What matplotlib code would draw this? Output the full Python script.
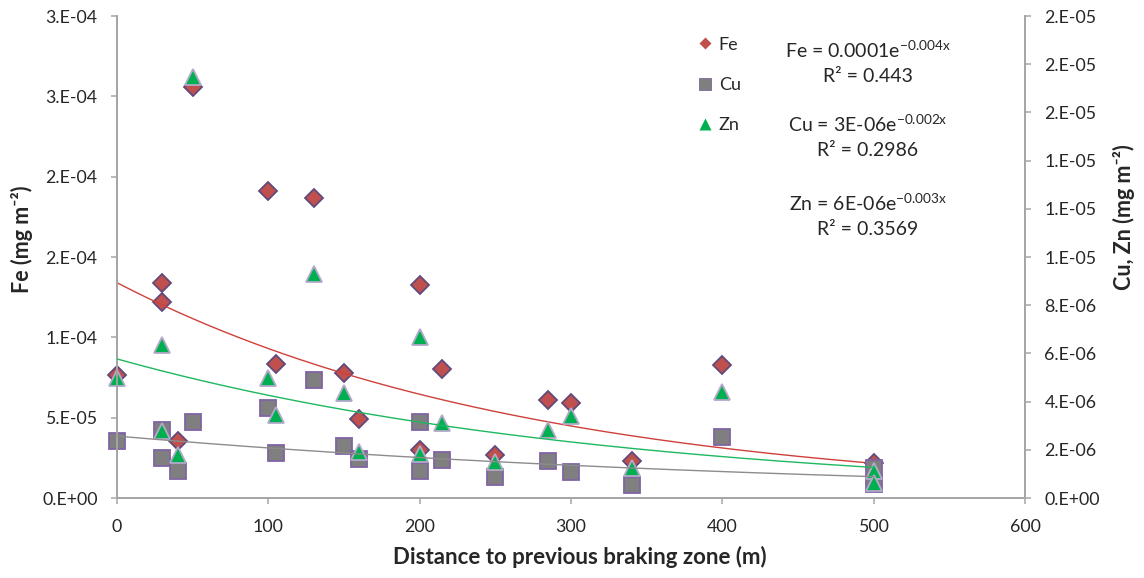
import numpy as np
import matplotlib
matplotlib.use("Agg")
import matplotlib.pyplot as plt
from matplotlib.lines import Line2D
from matplotlib.ticker import FuncFormatter

plt.rcParams['font.family'] = ['Lato', 'DejaVu Sans']

# Datos
dist_fe = [0, 30, 30, 40, 50, 100, 105, 130, 150, 160, 200, 200, 215, 250, 285, 300, 340, 400, 500]
fe = [7.66e-5, 1.337e-4, 1.222e-4, 3.55e-5, 2.561e-4, 1.912e-4, 8.32e-5, 1.870e-4, 7.80e-5, 4.9e-5,
      1.326e-4, 2.99e-5, 8.01e-5, 2.68e-5, 6.10e-5, 5.93e-5, 2.30e-5, 8.28e-5, 2.2e-5]

dist_cu = [0, 30, 30, 40, 50, 100, 105, 130, 150, 160, 200, 200, 215, 250, 285, 300, 340, 400, 500, 500]
cu = [2.37e-6, 2.82e-6, 1.67e-6, 1.12e-6, 3.17e-6, 3.72e-6, 1.88e-6, 4.90e-6, 2.17e-6, 1.60e-6,
      3.17e-6, 1.12e-6, 1.58e-6, 0.88e-6, 1.54e-6, 1.09e-6, 0.54e-6, 2.54e-6, 1.24e-6, 0.58e-6]

dist_zn = [0, 30, 30, 40, 50, 100, 105, 130, 150, 160, 200, 200, 215, 250, 285, 300, 340, 400, 500, 500]
zn = [4.99e-6, 6.35e-6, 2.78e-6, 1.78e-6, 1.745e-5, 4.97e-6, 3.44e-6, 9.29e-6, 4.37e-6, 1.92e-6,
      6.69e-6, 1.81e-6, 3.10e-6, 1.51e-6, 2.82e-6, 3.40e-6, 1.23e-6, 4.41e-6, 1.12e-6, 0.62e-6]

# Lineas de tendencia exponenciales (y = a*exp(b*x))
fe_trend = (1.34e-4, -0.00365)
cu_trend = (2.57e-6, -0.00213)
zn_trend = (5.77e-6, -0.00303)

fe_eq = ["Fe = 0.0001e$^{\\mathregular{-0.004x}}$", "R² = 0.443"]
cu_eq = ["Cu = 3E-06e$^{\\mathregular{-0.002x}}$", "R² = 0.2986"]
zn_eq = ["Zn = 6E-06e$^{\\mathregular{-0.003x}}$", "R² = 0.3569"]

x_ticks = [0, 100, 200, 300, 400, 500, 600]
fe_ticks = [0, 5e-5, 1e-4, 1.5e-4, 2e-4, 2.5e-4, 3e-4]
cuzn_ticks = [0, 2e-6, 4e-6, 6e-6, 8e-6, 1e-5, 1.2e-5, 1.4e-5, 1.6e-5, 1.8e-5, 2e-5]


def excel_sci(v, pos=None):
    # formato tipo Excel "0.E+00"
    if v == 0:
        return "0.E+00"
    e = int(np.floor(np.log10(abs(v)) + 1e-9))
    m = int(np.floor(v / 10**e + 0.5 + 1e-9))
    if m == 10:
        m = 1
        e += 1
    return f"{m}.E{e:+03d}"


axis_col = '#A6A6A6'
txt_col = '#262626'

fig = plt.figure(figsize=(11.44, 5.78), dpi=100)
ax = fig.add_axes([0.1023, 0.1384, 0.7937, 0.8339])
ax2 = ax.twinx()

xx = np.linspace(0, 500, 200)
ax.plot(xx, fe_trend[0] * np.exp(fe_trend[1] * xx), color='#D0403A', lw=1.0, zorder=3)
ax.plot(dist_fe, fe, 'D', ms=9.5, mfc='#C0504D', mec='#604A7B', mew=1.3, ls='none',
        zorder=2, clip_on=False)

ax2.plot(dist_cu, cu, 's', ms=12, mfc='#7F7F7F', mec='#8064A2', mew=1.3, ls='none',
         zorder=2, clip_on=False)
ax2.plot(dist_zn, zn, '^', ms=12, mfc='#00B050', mec='#B3A9C9', mew=1.3, ls='none',
         zorder=2, clip_on=False)
ax2.plot(xx, cu_trend[0] * np.exp(cu_trend[1] * xx), color='#8C8C8C', lw=1.0, zorder=3)
ax2.plot(xx, zn_trend[0] * np.exp(zn_trend[1] * xx), color='#1DB860', lw=1.0, zorder=3)

ax.set_xlim(0, 600)
ax.set_ylim(0, 3e-4)
ax2.set_ylim(0, 2e-5)
ax.set_xticks(x_ticks)
ax.set_yticks(fe_ticks)
ax2.set_yticks(cuzn_ticks)
ax.yaxis.set_major_formatter(FuncFormatter(excel_sci))
ax2.yaxis.set_major_formatter(FuncFormatter(excel_sci))

for a in (ax, ax2):
    a.spines['top'].set_visible(False)
    for s in ('left', 'right', 'bottom'):
        a.spines[s].set_color(axis_col)
        a.spines[s].set_linewidth(1.3)
    a.tick_params(axis='both', colors=axis_col, labelcolor=txt_col, labelsize=12.8,
                  length=4, width=1.1, direction='out')
ax.tick_params(axis='x', pad=11)
ax.tick_params(axis='y', pad=10)
ax2.tick_params(axis='y', pad=10)

ax.set_xlabel("Distance to previous braking zone (m)", fontsize=16, fontweight='bold', color=txt_col)
ax.xaxis.set_label_coords(0.51, -0.100)
ax.set_ylabel("Fe (mg m⁻²)", fontsize=15.5, fontweight='bold', color=txt_col)
ax.yaxis.set_label_coords(-0.0925, 0.537)
ax2.set_ylabel("Cu, Zn (mg m⁻²)", fontsize=15.5, fontweight='bold', color=txt_col)
ax2.yaxis.set_label_coords(1.097, 0.583)

handles = [
    Line2D([], [], marker='D', ls='none', ms=6.5, mfc='#C0504D', mec='none'),
    Line2D([], [], marker='s', ls='none', ms=8, mfc='#7F7F7F', mec='#8064A2', mew=0.6),
    Line2D([], [], marker='^', ls='none', ms=8, mfc='#00B050', mec='none'),
]
leg = ax2.legend(handles, ["Fe", "Cu", "Zn"], loc='upper left', bbox_to_anchor=(0.632, 0.972),
                 frameon=False, fontsize=13, handlelength=0.8, handletextpad=0.35,
                 labelspacing=1.35, borderaxespad=0)
for t in leg.get_texts():
    t.set_color(txt_col)

eq_x = (868 - 117) / 908
for lines, y0 in ((fe_eq, 50), (cu_eq, 124), (zn_eq, 203)):
    for i, line in enumerate(lines):
        yy = (498 - (y0 + 26 * i)) / 482
        ax2.text(eq_x, yy, line, transform=ax2.transAxes, ha='center', va='center',
                 fontsize=14, color=txt_col)

fig.savefig("out.png", dpi=100)
